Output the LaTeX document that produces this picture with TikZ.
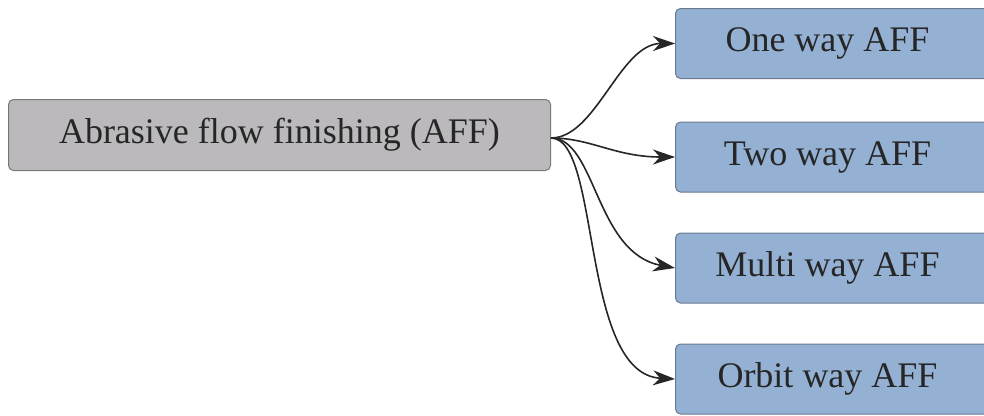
\documentclass[tikz,border=0pt]{standalone}
\usepackage{fontspec}
\setmainfont{Liberation Serif}
\usetikzlibrary{arrows.meta}
\definecolor{rootfill}{RGB}{187,185,188}
\definecolor{rootdraw}{RGB}{120,120,122}
\definecolor{leaffill}{RGB}{148,177,212}
\definecolor{leafdraw}{RGB}{105,122,145}
\tikzset{
  rootbox/.style={draw=rootdraw, fill=rootfill, line width=1pt, rounded corners=5pt,
    minimum width=542pt, minimum height=71pt, inner sep=0pt, anchor=west,
    font=\fontsize{36}{40}\selectfont, text=black!85},
  leafbox/.style={draw=leafdraw, fill=leaffill, line width=1pt, rounded corners=5pt,
    minimum width=314pt, minimum height=70pt, inner sep=0pt, anchor=west,
    font=\fontsize{36}{40}\selectfont, text=black!85},
  conn/.style={line width=1.6pt, black!85, -{Stealth[length=22pt,width=15pt,inset=7pt]}}
}
\begin{document}
\begin{tikzpicture}[x=1pt,y=-1pt]
\useasboundingbox (0,0) rectangle (984,415);
\clip (0,0) rectangle (984,415);
\node[rootbox] (root) at (8,135) {Abrasive flow finishing (AFF)};
\node[leafbox] (one) at (675,43.5) {\hspace*{-10pt}One way AFF};
\node[leafbox] (two) at (675,157) {\hspace*{-10pt}Two way AFF};
\node[leafbox] (multi) at (675,268) {\hspace*{-10pt}Multi way AFF};
\node[leafbox] (orbit) at (675,379) {\hspace*{-10pt}Orbit way AFF};
\coordinate (src) at ([yshift=-3pt]root.east);
\draw[conn] (src) .. controls +(45,0) and +(-55,0) .. (one.west);
\draw[conn] (src) .. controls +(40,0) and +(-60,0) .. (two.west);
\draw[conn] (src) .. controls +(45,0) and +(-80,-15) .. (multi.west);
\draw[conn] (src) .. controls +(50,0) and +(-95,-5) .. (orbit.west);
\end{tikzpicture}
\end{document}
